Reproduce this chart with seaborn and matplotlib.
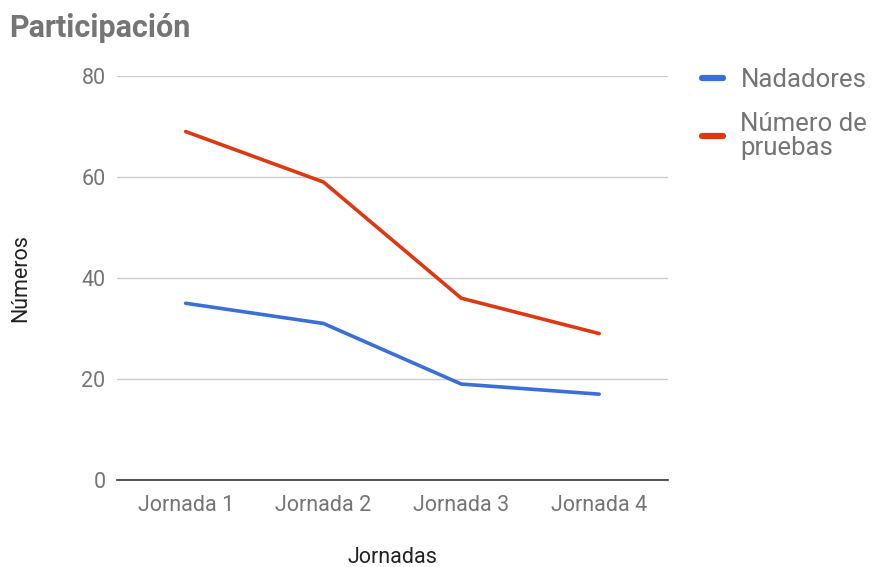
import pandas as pd
import matplotlib.pyplot as plt
import seaborn as sns

# Data
jornadas = ['Jornada 1', 'Jornada 2', 'Jornada 3', 'Jornada 4']
nadadores = [35, 31, 19, 17]
pruebas = [69, 59, 36, 29]
series = ['Nadadores', 'Número de\npruebas']
colors = ['#3a6fd8', '#dc3912']
yticks = [0, 20, 40, 60, 80]

df = pd.DataFrame({
    'Jornada': jornadas * 2,
    'Valor': nadadores + pruebas,
    'Serie': [series[0]] * 4 + [series[1]] * 4,
})

sns.set_style('white')
plt.rcParams['font.family'] = ['Roboto', 'DejaVu Sans']

fig = plt.figure(figsize=(8.71, 5.67), dpi=100)
ax = fig.add_axes([0.134, 0.1534, 0.633, 0.7126])

sns.lineplot(data=df, x='Jornada', y='Valor', hue='Serie', palette=colors,
             sort=False, linewidth=2.6, ax=ax, legend=False)

ax.set_xlim(-0.5, 3.5)
ax.set_ylim(0, 80)
ax.set_yticks(yticks)
ax.yaxis.grid(True, color='#cccccc', linewidth=1)
ax.set_axisbelow(True)
for side in ['top', 'right', 'left']:
    ax.spines[side].set_visible(False)
ax.spines['bottom'].set_color('#333333')
ax.spines['bottom'].set_linewidth(1.2)
ax.tick_params(axis='both', length=0, labelsize=15.5, labelcolor='#757575')
ax.tick_params(axis='y', pad=8)
ax.tick_params(axis='x', pad=11)

ax.set_xlabel('Jornadas', fontsize=15.5, color='#222222', labelpad=22)
ax.set_ylabel('Números', fontsize=15.5, color='#222222', labelpad=36)

fig.text(0.011, 0.951, 'Participación', fontsize=22, fontweight='bold',
         color='#757575', va='center', ha='left')

handles = [plt.Line2D([], [], color=c, linewidth=4.5, solid_capstyle='round')
           for c in colors]
leg = fig.legend(handles, series, loc='upper left', bbox_to_anchor=(0.779, 0.92),
                 frameon=False, fontsize=18.5, labelcolor='#757575',
                 handlelength=0.83, handletextpad=0.68, labelspacing=0.75)
for t in leg.get_texts():
    t.set_linespacing(1.0)

fig.savefig('out.png', dpi=100)
